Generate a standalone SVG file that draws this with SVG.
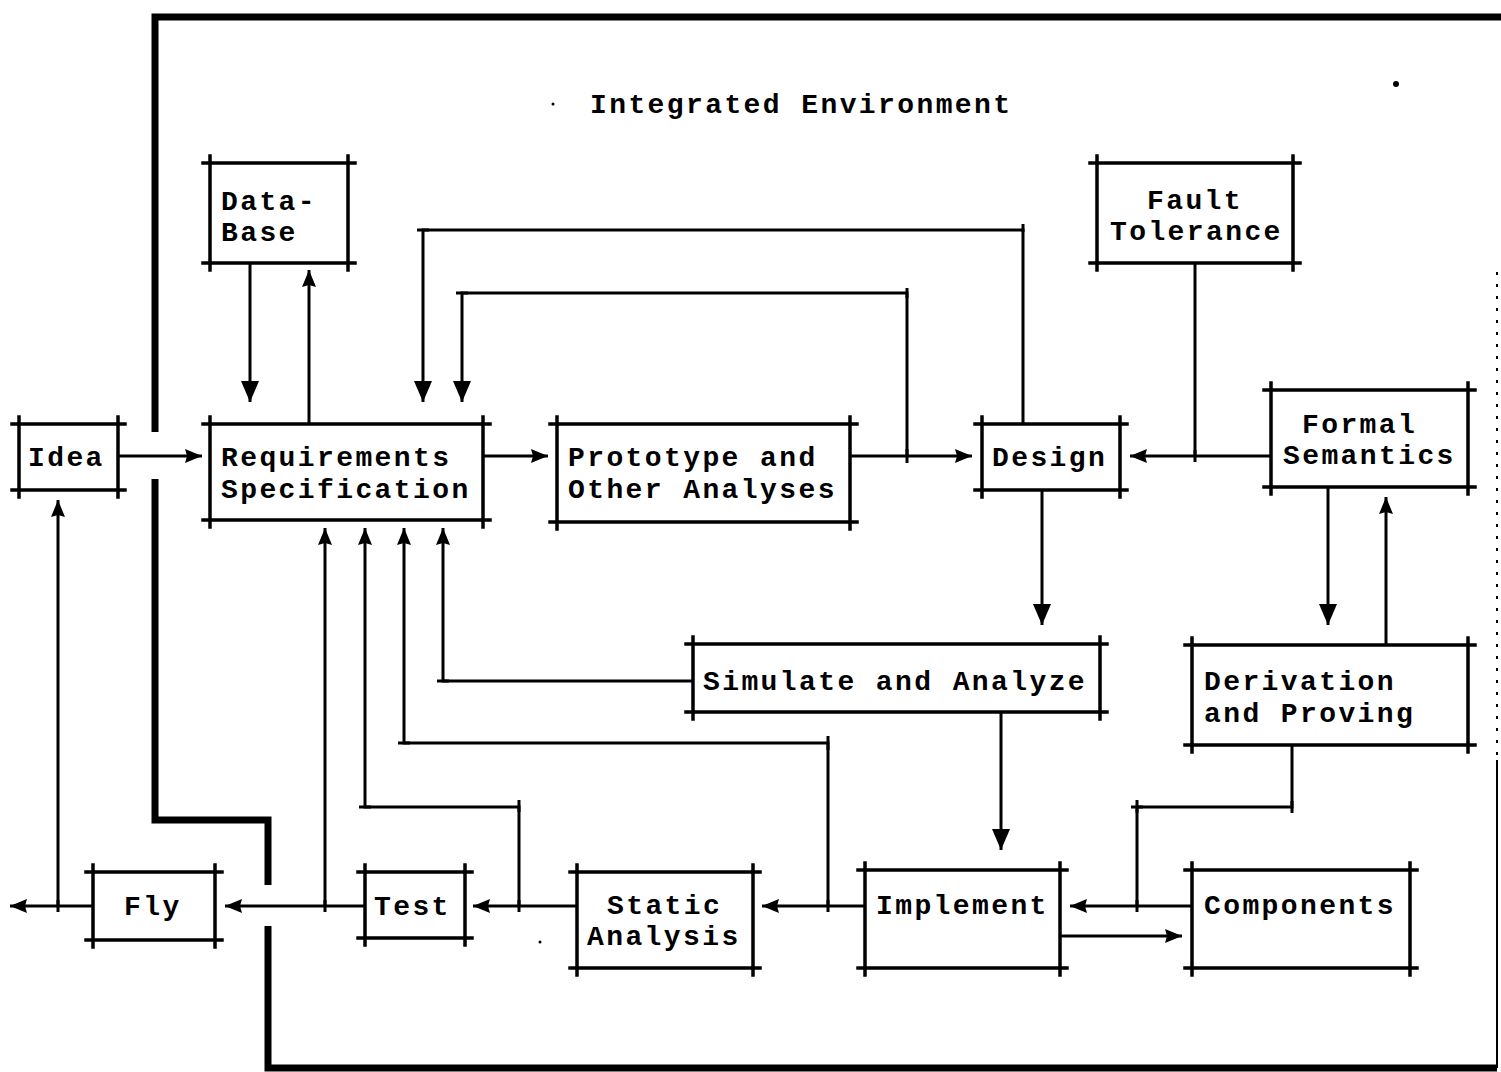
<svg xmlns="http://www.w3.org/2000/svg" width="1501" height="1072" viewBox="0 0 1501 1072">
<defs>
<marker id="ah" markerUnits="userSpaceOnUse" markerWidth="18" markerHeight="16" refX="17" refY="8" orient="auto">
<path d="M0,1 L17,8 L0,15 L2,8 z" fill="#000"/>
</marker>
<marker id="big" markerUnits="userSpaceOnUse" markerWidth="22" markerHeight="18" refX="21" refY="9" orient="auto">
<path d="M0,0 L21,9 L0,18 z" fill="#000"/>
</marker>
<style>
.box{fill:none;stroke:#000;stroke-width:3.5;stroke-linecap:square}
.c{fill:none;stroke:#000;stroke-width:3}
.a{marker-end:url(#ah)}
.b{marker-end:url(#big)}
.border{fill:none;stroke:#000;stroke-width:7}
text{font-family:"Liberation Mono","Courier New",monospace;font-size:28px;font-weight:bold;letter-spacing:2.4px;fill:#000}
</style>
</defs>
<rect width="1501" height="1072" fill="#fff"/>

<g id="environment">
<path class="border" d="M155,432 V17 H1501"/>
<path class="border" d="M155,479 V820 H268 V885"/>
<path class="border" d="M268,926 V1068 H1497"/>
<path d="M1497,272 V760" fill="none" stroke="#000" stroke-width="2" stroke-dasharray="3,9"/>
<path d="M1497,760 V1068" fill="none" stroke="#000" stroke-width="2"/>
<text x="590" y="113">Integrated Environment</text>
<circle cx="1396" cy="84" r="3"/>
<circle cx="553" cy="104" r="1.5"/>
<circle cx="540" cy="942" r="1.5"/>
</g>

<g id="connectors">
<path class="c a" d="M118,456 H202"/>
<path class="c b" d="M250,263 V402"/>
<path class="c a" d="M309,424 V270"/>
<path class="c a" d="M483,456 H548"/>
<path class="c a" d="M850,456 H972"/>
<path class="c b" d="M907,456 V293 H462 V402"/>
<path class="c b" d="M1023,424 V230 H423 V402"/>
<path class="c" d="M1195,263 V456"/>
<path class="c a" d="M1271,456 H1130"/>
<path class="c b" d="M1042,490 V625"/>
<path class="c b" d="M1328,487 V625"/>
<path class="c a" d="M1386,645 V497"/>
<path class="c b" d="M1001,712 V850"/>
<path class="c a" d="M693,681 H443 V528"/>
<path class="c a" d="M865,906 H762"/>
<path class="c a" d="M828,906 V743 H404 V528"/>
<path class="c a" d="M577,906 H473"/>
<path class="c a" d="M519,906 V807 H365 V528"/>
<path class="c a" d="M365,906 H225"/>
<path class="c a" d="M325,906 V528"/>
<path class="c a" d="M93,906 H10"/>
<path class="c a" d="M58,906 V500"/>
<path class="c" d="M1292,745 V807 H1137 V906"/>
<path class="c a" d="M1192,906 H1070"/>
<path class="c a" d="M1060,936 H1182"/>
<path class="c" stroke-width="2" d="M907,449 V463 M907,288 V298 M417,230 H429 M456,293 H468 M1023,224 V232 M1195,450 V462 M437,681 H449 M828,736 V750 M398,743 H410 M828,900 V912 M519,800 V812 M359,807 H371 M519,900 V912 M325,900 V912 M58,900 V912 M1131,807 H1143 M1137,800 V813 M1292,801 V813 M1137,900 V912"/>
</g>

<g id="idea">
<path class="box" d="M12,424 H125 M12,490 H125 M19,417 V497 M118,417 V497"/>
<text x="28" y="466">Idea</text>
</g>
<g id="database">
<path class="box" d="M203,163 H355 M203,263 H355 M210,156 V270 M348,156 V270"/>
<text x="221" y="210">Data-</text>
<text x="221" y="241">Base</text>
</g>
<g id="requirements">
<path class="box" d="M203,424 H490 M203,520 H490 M210,417 V527 M483,417 V527"/>
<text x="221" y="466">Requirements</text>
<text x="221" y="498">Specification</text>
</g>
<g id="prototype">
<path class="box" d="M550,424 H857 M550,522 H857 M557,417 V529 M850,417 V529"/>
<text x="568" y="466">Prototype and</text>
<text x="568" y="498">Other Analyses</text>
</g>
<g id="design">
<path class="box" d="M975,424 H1127 M975,490 H1127 M982,417 V497 M1120,417 V497"/>
<text x="992" y="466">Design</text>
</g>
<g id="fault-tolerance">
<path class="box" d="M1090,163 H1300 M1090,263 H1300 M1097,156 V270 M1293,156 V270"/>
<text x="1147" y="209">Fault</text>
<text x="1110" y="240">Tolerance</text>
</g>
<g id="formal-semantics">
<path class="box" d="M1264,390 H1475 M1264,487 H1475 M1271,383 V494 M1468,383 V494"/>
<text x="1302" y="433">Formal</text>
<text x="1283" y="464">Semantics</text>
</g>
<g id="simulate">
<path class="box" d="M686,644 H1107 M686,712 H1107 M693,637 V719 M1100,637 V719"/>
<text x="703" y="690">Simulate and Analyze</text>
</g>
<g id="derivation">
<path class="box" d="M1185,645 H1475 M1185,745 H1475 M1192,638 V752 M1468,638 V752"/>
<text x="1204" y="690">Derivation</text>
<text x="1204" y="722">and Proving</text>
</g>
<g id="fly">
<path class="box" d="M86,872 H222 M86,940 H222 M93,865 V947 M215,865 V947"/>
<text x="124" y="915">Fly</text>
</g>
<g id="test">
<path class="box" d="M358,872 H472 M358,938 H472 M365,865 V945 M465,865 V945"/>
<text x="374" y="915">Test</text>
</g>
<g id="static-analysis">
<path class="box" d="M570,872 H760 M570,968 H760 M577,865 V975 M753,865 V975"/>
<text x="607" y="914">Static</text>
<text x="587" y="945">Analysis</text>
</g>
<g id="implement">
<path class="box" d="M858,870 H1067 M858,968 H1067 M865,863 V975 M1060,863 V975"/>
<text x="876" y="914">Implement</text>
</g>
<g id="components">
<path class="box" d="M1185,870 H1417 M1185,968 H1417 M1192,863 V975 M1410,863 V975"/>
<text x="1204" y="914">Components</text>
</g>
</svg>
